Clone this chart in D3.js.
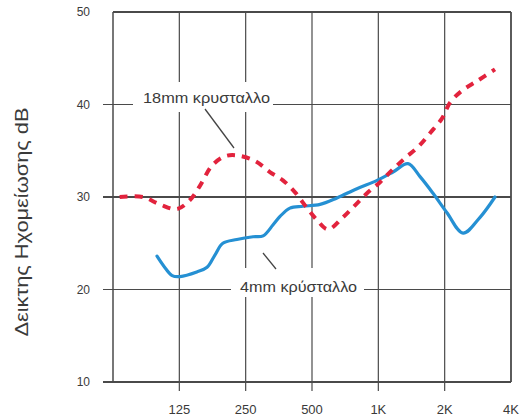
<!DOCTYPE html>
<html>
<head>
<meta charset="utf-8">
<script src="https://cdn.jsdelivr.net/npm/d3@7"></script>
<style>
  html, body { margin: 0; padding: 0; background: #fff; }
  svg { display: block; }
  text { font-family: "Liberation Sans", Arial, sans-serif; fill: #3a3a3a; }
</style>
</head>
<body>
<svg id="chart" width="520" height="419"></svg>
<script>
// ---- data ----
const xTickValues = [125, 250, 500, 1000, 2000, 4000];
const xTickLabels = ["125", "250", "500", "1K", "2K", "4K"];
const yTickValues = [10, 20, 30, 40, 50];

// 18mm glass (red dashed): frequency (Hz) and sound reduction index (dB)
const freq18 = [67, 85.5, 102, 122, 140, 155, 176, 201, 228, 276, 322, 369, 419, 475, 527, 591, 684, 784, 888, 1018, 1154, 1321, 1514, 1716, 1946, 2115, 2398, 2834, 3384];
const db18   = [30.0, 30.0, 29.2, 28.7, 29.7, 31.2, 33.4, 34.4, 34.5, 33.9, 32.7, 31.8, 30.5, 28.8, 27.5, 26.5, 27.7, 29.1, 30.4, 31.6, 32.9, 34.2, 35.4, 36.9, 38.5, 40.2, 41.5, 42.6, 43.8];

// 4mm glass (blue solid)
const freq4 = [99, 108, 116, 126, 150, 167, 181, 197, 228, 270, 300, 333, 358, 397, 455, 544, 649, 800, 987, 1166, 1363, 1546, 1771, 2049, 2423, 2894, 3384];
const db4   = [23.6, 22.3, 21.5, 21.4, 21.9, 22.4, 23.7, 25.0, 25.4, 25.7, 25.8, 27.0, 27.9, 28.8, 29.0, 29.2, 29.9, 30.9, 31.8, 32.7, 33.6, 32.2, 30.4, 28.3, 26.1, 27.8, 30.0];

const yTitle = "Δεικτης Ηχομείωσης dB";
const label18 = "18mm κρυσταλλο";
const label4 = "4mm κρύσταλλο";

// ---- layout ----
const svg = d3.select("#chart");
const mLeft = 113, mRight = 511, mTop = 12, mBottom = 382;
const x = d3.scaleLog().base(2).domain([62.5, 4000]).range([mLeft, mRight]);
const y = d3.scaleLinear().domain([10, 50]).range([mBottom, mTop]);
const gridColor = "#4a4a4a";

const g = svg.append("g");

// horizontal grid lines (extend left as ticks)
g.selectAll("line.h").data(yTickValues).join("line")
  .attr("x1", d => (d === 50 ? mLeft : mLeft - 10)).attr("x2", mRight)
  .attr("y1", d => y(d)).attr("y2", d => y(d))
  .attr("stroke", gridColor)
  .attr("stroke-width", d => (d === 30 || d === 50 || d === 10) ? 1.8 : 1.2);

// vertical grid lines (extend below as ticks)
g.selectAll("line.v").data(xTickValues).join("line")
  .attr("x1", d => x(d)).attr("x2", d => x(d))
  .attr("y1", mTop).attr("y2", d => d === 4000 ? mBottom : mBottom + 9)
  .attr("stroke", gridColor)
  .attr("stroke-width", d => d === 4000 ? 1.8 : 1.2);

// left border
g.append("line")
  .attr("x1", x(62.5)).attr("x2", x(62.5))
  .attr("y1", mTop).attr("y2", mBottom)
  .attr("stroke", gridColor).attr("stroke-width", 1.5);

// tick labels
g.selectAll("text.yt").data(yTickValues).join("text")
  .attr("x", 90).attr("y", d => y(d) + 4)
  .attr("text-anchor", "end")
  .attr("font-size", 12)
  .text(d => d);

g.selectAll("text.xt").data(xTickValues).join("text")
  .attr("x", d => x(d)).attr("y", 414)
  .attr("text-anchor", "middle")
  .attr("font-size", 13)
  .text((d, i) => xTickLabels[i]);

// y title
svg.append("text")
  .attr("transform", "translate(28,222) rotate(-90)")
  .attr("text-anchor", "middle")
  .attr("font-size", 19)
  .attr("textLength", 229)
  .attr("lengthAdjust", "spacingAndGlyphs")
  .text(yTitle);

// label backgrounds (break grid lines)
svg.append("rect").attr("x", 133).attr("y", 82).attr("width", 140).attr("height", 30).attr("fill", "#fff");
svg.append("rect").attr("x", 231).attr("y", 268).attr("width", 133).attr("height", 29).attr("fill", "#fff");

// curves
const line = d3.line()
  .x(d => x(d[0])).y(d => y(d[1]))
  .curve(d3.curveCatmullRom.alpha(0.5));

svg.append("path")
  .datum(d3.zip(freq4, db4))
  .attr("d", line)
  .attr("fill", "none")
  .attr("stroke", "#2590d3")
  .attr("stroke-width", 3.2)
  .attr("stroke-linejoin", "round")
  .attr("stroke-linecap", "round");

svg.append("path")
  .datum(d3.zip(freq18, db18))
  .attr("d", line)
  .attr("fill", "none")
  .attr("stroke", "#e2233d")
  .attr("stroke-width", 4)
  .attr("stroke-dasharray", "8,7")
  .attr("stroke-linecap", "butt");

// annotation labels
svg.append("text")
  .attr("x", 143).attr("y", 103)
  .attr("font-size", 14)
  .attr("textLength", 127)
  .attr("lengthAdjust", "spacingAndGlyphs")
  .text(label18);

svg.append("text")
  .attr("x", 240).attr("y", 292)
  .attr("font-size", 14)
  .attr("textLength", 117)
  .attr("lengthAdjust", "spacingAndGlyphs")
  .text(label4);

// leader lines
svg.append("line")
  .attr("x1", 205).attr("y1", 109).attr("x2", 234).attr("y2", 148)
  .attr("stroke", "#444").attr("stroke-width", 1.3);
svg.append("line")
  .attr("x1", 263).attr("y1", 253).attr("x2", 276).attr("y2", 269)
  .attr("stroke", "#444").attr("stroke-width", 1.3);
</script>
</body>
</html>
